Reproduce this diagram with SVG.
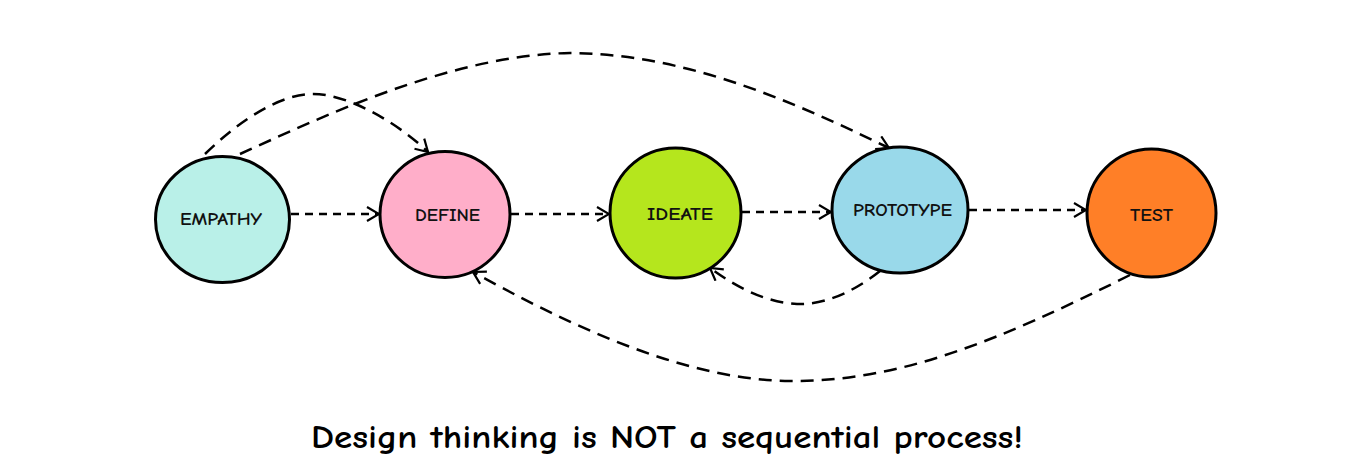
<svg xmlns="http://www.w3.org/2000/svg" width="1356" height="475" viewBox="0 0 1356 475">
<defs>
<marker id="arr" markerUnits="userSpaceOnUse" markerWidth="16" markerHeight="16" viewBox="0 0 16 16" refX="14" refY="8" orient="auto">
<path d="M2,1 L14,8 L2,15" fill="none" stroke="#000" stroke-width="2.2"/>
</marker>
<style>
.node{stroke:#000;stroke-width:3}
.lbl{font-family:"Comic Sans MS","Comic Neue","DejaVu Sans",sans-serif;font-size:18px;font-weight:bold;fill:#111;text-anchor:middle}
.c{fill:none;stroke:#000;stroke-width:2.5;marker-end:url(#arr)}
.s{stroke-dasharray:8 6}
.d{stroke-dasharray:13 8}
</style>
</defs>
<rect width="1356" height="475" fill="#fff"/>
<g id="connectors">
<path class="c s" d="M291,214 L379,214"/>
<path class="c s" d="M511,214 L609,214"/>
<path class="c s" d="M742,212 L831,212"/>
<path class="c s" d="M969,210 L1086,210"/>
<path class="c d" d="M205,154 C240,120 280,94 313,94 C350,94 400,125 428,152"/>
<path class="c d" d="M240,154 C320,118 450,55 570,53 C680,54 780,95 889,148"/>
<path class="c d" d="M880,271 C850,295 820,305 797,304 C770,303 740,290 710,268"/>
<path class="c d" d="M1130,275 C1000,340 900,382 790,381 C680,380 560,320 473,272"/>
</g>
<g id="empathy"><ellipse class="node" cx="222.5" cy="219.5" rx="67" ry="63" fill="#b9f0e8"/><text class="lbl" x="221" y="225" textLength="82" lengthAdjust="spacingAndGlyphs">EMPATHY</text></g>
<g id="define"><ellipse class="node" cx="445" cy="214.5" rx="65" ry="63" fill="#ffaec9"/><text class="lbl" x="447.5" y="221" textLength="65" lengthAdjust="spacingAndGlyphs">DEFINE</text></g>
<g id="ideate"><ellipse class="node" cx="675.5" cy="213" rx="65.5" ry="65" fill="#b5e61d"/><text class="lbl" x="680" y="220" textLength="66" lengthAdjust="spacingAndGlyphs">IDEATE</text></g>
<g id="prototype"><ellipse class="node" cx="900" cy="210" rx="68" ry="63" fill="#99d9ea"/><text class="lbl" x="902.5" y="216" textLength="99" lengthAdjust="spacingAndGlyphs">PROTOTYPE</text></g>
<g id="test"><ellipse class="node" cx="1151.5" cy="213" rx="64.5" ry="64" fill="#ff7f27"/><text class="lbl" x="1151.5" y="221" textLength="43" lengthAdjust="spacingAndGlyphs">TEST</text></g>
<text x="667" y="448" font-family="'Comic Sans MS','Comic Neue','DejaVu Sans',sans-serif" font-size="33" font-weight="bold" fill="#000" text-anchor="middle" textLength="712" lengthAdjust="spacingAndGlyphs">Design thinking is NOT a sequential process!</text>
</svg>
